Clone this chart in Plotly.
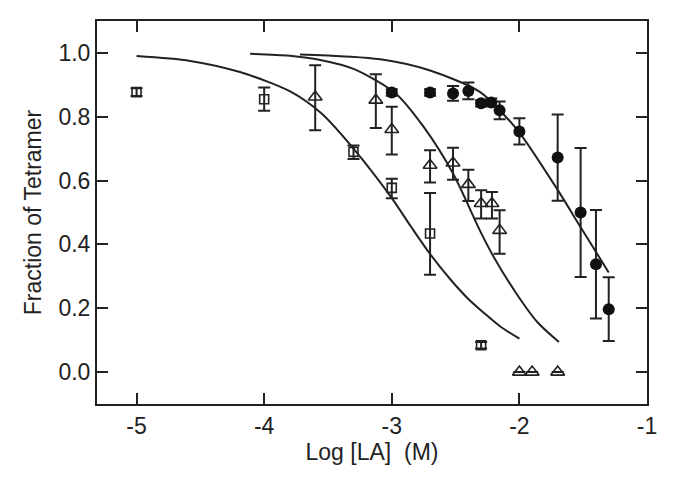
import plotly.graph_objects as go

# open squares
sq_x = [-5.0, -4.0, -3.3, -3.0, -2.7, -2.3]
sq_y = [0.877, 0.855, 0.690, 0.577, 0.434, 0.084]
sq_hi = [0.012, 0.037, 0.020, 0.029, 0.127, 0.010]
sq_lo = [0.012, 0.036, 0.022, 0.032, 0.129, 0.010]

# open triangles
tri_x = [-3.6, -3.125, -3.0, -2.7, -2.52, -2.4, -2.3, -2.215, -2.155, -2.0, -1.9, -1.7]
tri_y = [0.862, 0.852, 0.760, 0.648, 0.655, 0.588, 0.528, 0.528, 0.444, 0.0, 0.0, 0.0]
tri_hi = [0.099, 0.081, 0.071, 0.047, 0.048, 0.046, 0.042, 0.036, 0.063, 0, 0, 0]
tri_lo = [0.104, 0.087, 0.078, 0.054, 0.052, 0.052, 0.047, 0.047, 0.073, 0, 0, 0]

# filled circles
ci_x = [-3.0, -2.7, -2.52, -2.4, -2.3, -2.22, -2.155, -2.0, -1.7, -1.52, -1.4, -1.3]
ci_y = [0.876, 0.876, 0.873, 0.881, 0.842, 0.845, 0.820, 0.754, 0.672, 0.500, 0.338, 0.197]
ci_err = [0.010, 0.010, 0.023, 0.026, 0.010, 0.012, 0.028, 0.041, 0.135, 0.202, 0.170, 0.100]

# fitted curves
fit1_x = [-5.0, -4.58, -4.19, -3.80, -3.55, -3.30, -3.0, -2.85, -2.70, -2.54, -2.40, -2.28, -2.15, -2.0]
fit1_y = [0.990, 0.975, 0.940, 0.880, 0.810, 0.700, 0.545, 0.456, 0.370, 0.290, 0.229, 0.186, 0.143, 0.105]
fit2_x = [-4.11, -3.8, -3.56, -3.3, -2.97, -2.75, -2.52, -2.31, -2.20, -2.02, -1.86, -1.69]
fit2_y = [0.997, 0.991, 0.978, 0.950, 0.873, 0.768, 0.622, 0.444, 0.360, 0.244, 0.157, 0.094]
fit3_x = [-3.72, -3.09, -2.70, -2.31, -2.125, -1.99, -1.705, -1.52, -1.39, -1.30]
fit3_y = [0.995, 0.980, 0.945, 0.878, 0.808, 0.745, 0.574, 0.454, 0.370, 0.312]

ink = '#222222'

fig = go.Figure()

for fx, fy in [(fit1_x, fit1_y), (fit2_x, fit2_y), (fit3_x, fit3_y)]:
    fig.add_trace(go.Scatter(
        x=fx, y=fy, mode='lines',
        line=dict(color=ink, width=2, shape='spline', smoothing=0.8),
        hoverinfo='skip'
    ))

fig.add_trace(go.Scatter(
    x=sq_x, y=sq_y, mode='markers',
    marker=dict(symbol='square-open', size=9, color=ink, line=dict(width=1.6)),
    error_y=dict(type='data', symmetric=False, array=sq_hi, arrayminus=sq_lo,
                 color=ink, thickness=2, width=6)
))

fig.add_trace(go.Scatter(
    x=tri_x, y=tri_y, mode='markers',
    marker=dict(symbol='triangle-up-open', size=12, color=ink, line=dict(width=1.6)),
    error_y=dict(type='data', symmetric=False, array=tri_hi, arrayminus=tri_lo,
                 color=ink, thickness=2, width=6)
))

fig.add_trace(go.Scatter(
    x=ci_x, y=ci_y, mode='markers',
    marker=dict(symbol='circle', size=12, color='#111111'),
    error_y=dict(type='data', array=ci_err, color=ink, thickness=2, width=6)
))

axis_style = dict(
    showline=True, linecolor=ink, linewidth=2, mirror='allticks',
    ticks='inside', ticklen=11, tickwidth=2, tickcolor=ink,
    showgrid=False, zeroline=False,
    tickfont=dict(size=23, color=ink)
)

fig.update_xaxes(
    range=[-5.31, -1.0],
    tickvals=[-5, -4, -3, -2, -1],
    ticktext=['-5', '-4', '-3', '-2', '-1'],
    title=dict(text='Log [LA]\u00a0\u00a0(M)', font=dict(size=23, color=ink), standoff=6),
    **axis_style
)
fig.update_yaxes(
    range=[-0.1, 1.1],
    tickvals=[0, 0.2, 0.4, 0.6, 0.8, 1.0],
    tickformat='.1f',
    title=dict(text='Fraction of Tetramer', font=dict(size=23, color=ink), standoff=10),
    **axis_style
)

fig.update_layout(
    width=675, height=486,
    margin=dict(l=89, r=36, t=13, b=90),
    plot_bgcolor='white', paper_bgcolor='white',
    font=dict(family='Liberation Sans, Arial, sans-serif', color=ink),
    showlegend=False
)

fig.write_html("out.html")
